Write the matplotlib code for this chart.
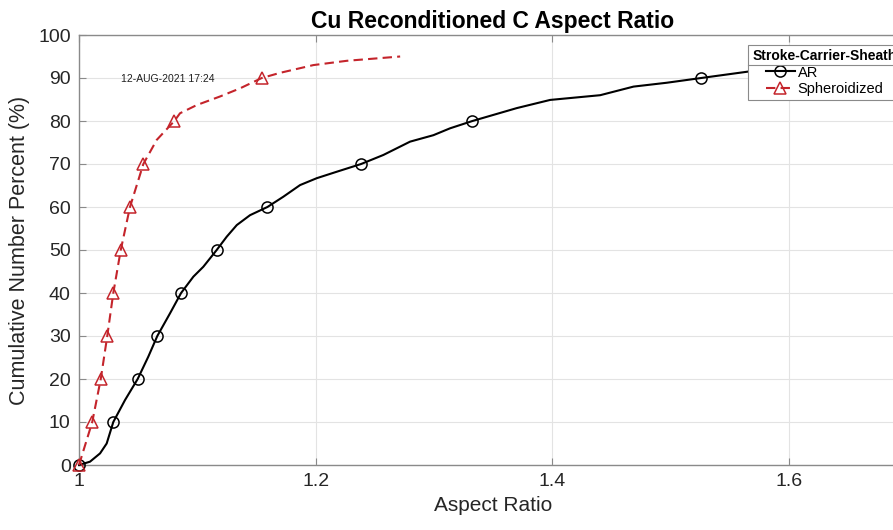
import matplotlib
matplotlib.use("Agg")
import matplotlib.pyplot as plt
from matplotlib.lines import Line2D

plt.rcParams['font.family'] = ['Liberation Sans', 'DejaVu Sans']

# AR series (black, circles at each 10 %)
ar_x = [1.0, 1.0093, 1.0178, 1.0234, 1.029, 1.0389, 1.0496, 1.0586, 1.0662, 1.077,
        1.0863, 1.0967, 1.1051, 1.1164, 1.1249, 1.1334, 1.1446, 1.1593, 1.1728, 1.1869,
        1.201, 1.2179, 1.2385, 1.2573, 1.2799, 1.2996, 1.3137, 1.3326, 1.3701, 1.3983,
        1.4406, 1.4688, 1.497, 1.526, 1.566, 1.60]
ar_y = [0, 0.77, 2.7, 5.0, 10, 15.1, 20, 25.2, 30, 35.3,
        40, 43.8, 46.1, 50, 53.1, 55.8, 58.1, 60, 62.4, 65.1,
        66.7, 68.2, 70, 72.1, 75.2, 76.7, 78.3, 80, 83.0, 84.9,
        86.0, 88.0, 88.9, 90, 91.5, 92.2]

# Spheroidized series (red dashed, triangles at each 10 %)
sp_x = [1.0, 1.0112, 1.0184, 1.0239, 1.029, 1.0353, 1.0431, 1.0544, 1.0657, 1.0806,
        1.0854, 1.0995, 1.1192, 1.1362, 1.1545, 1.17, 1.1981, 1.2264, 1.2715]
sp_y = [0, 10, 20, 30, 40, 50, 60, 70, 75.6, 80,
        81.8, 83.7, 85.7, 87.6, 90, 91.2, 93.0, 94.0, 95.0]

x_ticks = [1.0, 1.2, 1.4, 1.6]
x_labels = ['1', '1.2', '1.4', '1.6']
y_ticks = list(range(0, 101, 10))

title = 'Cu Reconditioned C Aspect Ratio'
xlabel = 'Aspect Ratio'
ylabel = 'Cumulative Number Percent (%)'
legend_title = 'Stroke-Carrier-Sheath'
series_names = ['AR', 'Spheroidized']
stamp = '12-AUG-2021 17:24'

W, H = 893, 530
fig = plt.figure(figsize=(W / 100, H / 100), dpi=100)
ax_l, ax_r, ax_b, ax_t = 79, 907, 465, 35
ax = fig.add_axes([ax_l / W, (H - ax_b) / H, (ax_r - ax_l) / W, (ax_b - ax_t) / H])

red = '#C4242B'

def deciles(ys):
    return [i for i, v in enumerate(ys) if abs(v - round(v / 10) * 10) < 1e-9]

l1, = ax.plot(ar_x, ar_y, color='black', lw=1.5, marker='o', markersize=8,
              markerfacecolor='none', markeredgewidth=1.1, markevery=deciles(ar_y),
              label=series_names[0], clip_on=False, zorder=3)
l2, = ax.plot(sp_x, sp_y, color=red, lw=1.5, ls=(0, (4.5, 2.5)), marker='^', markersize=8,
              markerfacecolor='none', markeredgewidth=1.1, markevery=deciles(sp_y),
              label=series_names[1], clip_on=False, zorder=3)

ax.set_xlim(1.0, 1.7)
ax.set_ylim(0, 100)
ax.set_xticks(x_ticks)
ax.set_xticklabels(x_labels)
ax.set_yticks(y_ticks)
ax.grid(True, color='#e3e3e3', lw=0.8)
ax.set_axisbelow(True)
for s in ax.spines.values():
    s.set_color('#8a8a8a')
    s.set_linewidth(1.0)
ax.tick_params(direction='in', length=5, width=0.8, color='#8a8a8a',
               labelsize=14, labelcolor='#262626', top=True, right=True, pad=6)

ax.set_title(title, fontsize=16.5, fontweight='bold', pad=5)
ax.set_xlabel(xlabel, fontsize=15, color='#262626', labelpad=4)
ax.set_ylabel(ylabel, fontsize=15.5, color='#262626', labelpad=6)

ax.text(0.0505, 0.898, stamp, transform=ax.transAxes, fontsize=7.5,
        va='center', ha='left', color='#202020')

leg = ax.legend(handles=[l1, l2], title=legend_title, loc='upper left',
                bbox_to_anchor=((748 - ax_l) / (ax_r - ax_l), (ax_b - 45) / (ax_b - ax_t)),
                borderaxespad=0, fontsize=10.5, title_fontproperties={'weight': 'bold', 'size': 10},
                handlelength=2.0, handletextpad=0.2, borderpad=0.3, labelspacing=0.15,
                fancybox=False, framealpha=1, edgecolor='#8a8a8a')
leg.get_frame().set_linewidth(0.8)

fig.canvas.draw()
r = fig.canvas.get_renderer()
fb = leg.get_frame().get_window_extent(r)
tb = leg.get_title().get_window_extent(r)
ysep = tb.y0 - 2
fig.add_artist(Line2D([fb.x0 / W, fb.x1 / W], [ysep / H, ysep / H],
                      transform=fig.transFigure, color='#8a8a8a', lw=0.8))

fig.savefig('out.png', dpi=100)
